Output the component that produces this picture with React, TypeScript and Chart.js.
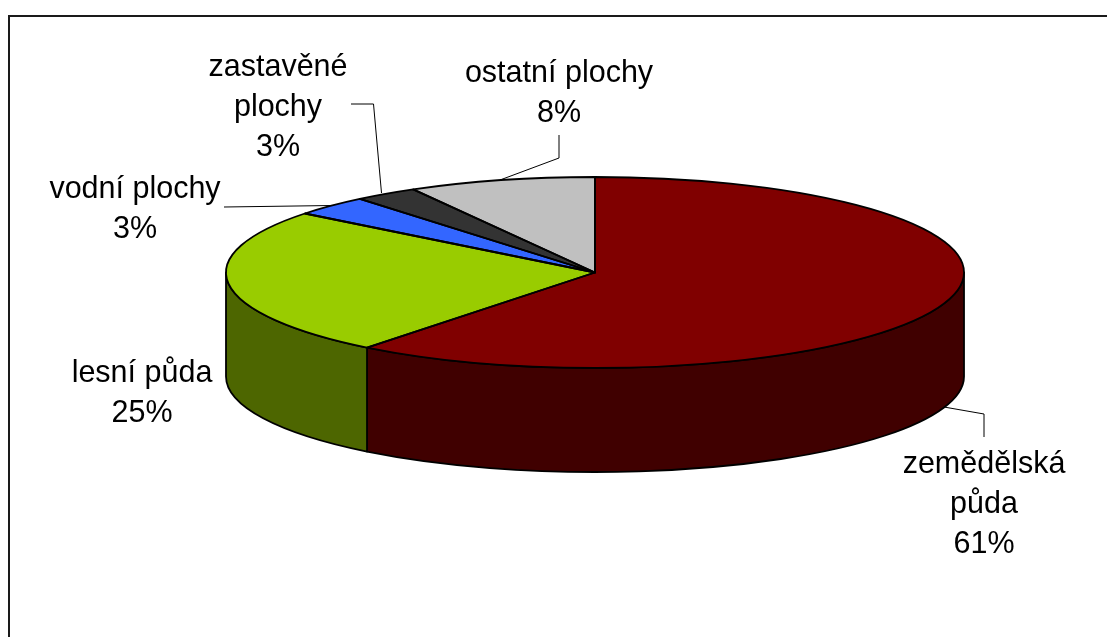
import React, { useEffect, useRef } from "react";
import { Chart, registerables } from "chart.js";

Chart.register(...registerables);

const categories = ["zemědělská půda", "lesní půda", "vodní plochy", "zastavěné plochy", "ostatní plochy"];
const shareValues = [60.6, 25.0, 3.4, 2.8, 8.2];
const topColors = ["#800000", "#99CC00", "#3366FF", "#333333", "#C0C0C0"];
const wallColors = ["#400000", "#4D6600", "#1A3380", "#1A1A1A", "#606060"];

const labelLines = [["zemědělská", "půda"], ["lesní půda"], ["vodní plochy"], ["zastavěné", "plochy"], ["ostatní plochy"]];
const labelCenters = [984, 142, 135, 278, 559];
const labelFirstBaselines = [473, 382, 198, 76, 82];
const leaderPaths = [
  [[984, 437], [984, 414], [944, 407]],
  [],
  [[224, 207], [332, 205.5]],
  [[351, 104], [373.5, 104], [381.5, 193]],
  [[559, 135], [559, 158], [500, 180]],
];

const RX = 369;
const RY = 95.5;
const DEPTH = 104;
const FONT = '30.5px "Liberation Sans", Arial, sans-serif';
const LINE_H = 39.8;

const pie3d = {
  id: "pie3d",
  beforeDatasetsDraw(chart: any) {
    const ctx = chart.ctx;
    const arcs = chart.getDatasetMeta(0).data;
    const { x: cx, y: cy, outerRadius } = arcs[0];
    ctx.save();
    ctx.lineJoin = "round";
    ctx.strokeStyle = "#000";
    ctx.lineWidth = 1.8;

    // side walls: the part of each slice's rim on the front half of the ellipse
    arcs.forEach((arc: any, i: number) => {
      const a = Math.max(arc.startAngle, 0);
      const b = Math.min(arc.endAngle, Math.PI);
      if (b <= a) return;
      ctx.beginPath();
      ctx.ellipse(cx, cy, RX, RY, 0, a, b);
      ctx.lineTo(cx + RX * Math.cos(b), cy + RY * Math.sin(b) + DEPTH);
      ctx.ellipse(cx, cy + DEPTH, RX, RY, 0, b, a, true);
      ctx.closePath();
      ctx.fillStyle = wallColors[i];
      ctx.fill();
      ctx.stroke();
    });

    // top faces: the library's own arc elements, flattened into an ellipse
    ctx.save();
    ctx.translate(cx, cy);
    ctx.scale(RX / outerRadius, RY / outerRadius);
    ctx.translate(-cx, -cy);
    arcs.forEach((arc: any) => arc.draw(ctx));
    ctx.restore();

    arcs.forEach((arc: any) => {
      ctx.beginPath();
      ctx.moveTo(cx, cy);
      ctx.ellipse(cx, cy, RX, RY, 0, arc.startAngle, arc.endAngle);
      ctx.closePath();
      ctx.stroke();
    });
    ctx.restore();
    return false;
  },
  afterDraw(chart: any) {
    const ctx = chart.ctx;
    const values: number[] = chart.data.datasets[0].data;
    const total = values.reduce((s, v) => s + v, 0);
    ctx.save();

    // frame of the chart area (only its left and top sides are in the picture)
    ctx.fillStyle = "#1a1a1a";
    ctx.fillRect(8, 15, 2, 622);
    ctx.fillRect(8, 15, 1099, 2);

    ctx.strokeStyle = "#000";
    ctx.lineWidth = 1;
    leaderPaths.forEach((path) => {
      if (!path.length) return;
      ctx.beginPath();
      path.forEach(([x, y], i) => (i ? ctx.lineTo(x, y) : ctx.moveTo(x, y)));
      ctx.stroke();
    });

    ctx.fillStyle = "#000";
    ctx.font = FONT;
    ctx.textAlign = "center";
    ctx.textBaseline = "alphabetic";
    labelLines.forEach((lines, i) => {
      const all = [...lines, `${Math.round((values[i] / total) * 100)}%`];
      all.forEach((t, j) => ctx.fillText(t, labelCenters[i], labelFirstBaselines[i] + j * LINE_H));
    });
    ctx.restore();
  },
};

export default function App() {
  const ref = useRef<HTMLCanvasElement | null>(null);
  useEffect(() => {
    document.body.style.margin = "0";
    document.body.style.background = "#fff";
    const chart = new Chart(ref.current as HTMLCanvasElement, {
      type: "pie",
      data: {
        labels: categories,
        datasets: [{ data: shareValues, backgroundColor: topColors, borderWidth: 0 }],
      },
      options: {
        responsive: false,
        animation: false,
        layout: { padding: { left: 83, right: 0, top: 0, bottom: 92 } },
        plugins: { legend: { display: false }, tooltip: { enabled: false } },
      },
      plugins: [pie3d],
    } as any);
    return () => chart.destroy();
  }, []);
  return <canvas ref={ref} width={1107} height={637} style={{ display: "block", width: 1107, height: 637 }} />;
}
